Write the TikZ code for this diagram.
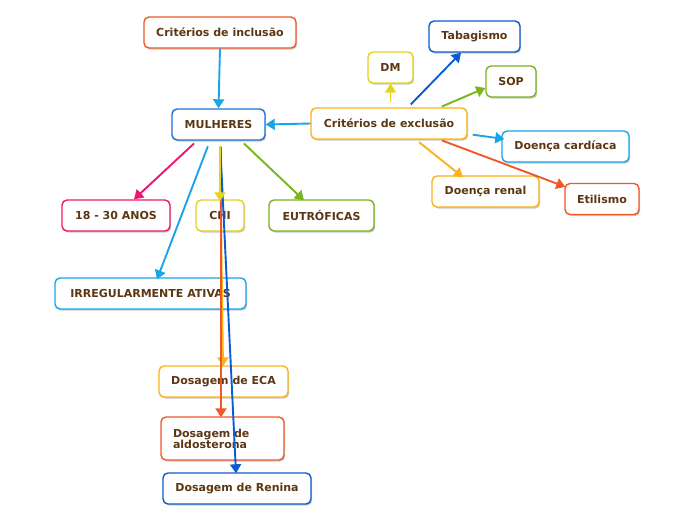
\documentclass[tikz,border=0pt]{standalone}
\usepackage{fontspec}
\setmainfont{DejaVu Sans}
\usetikzlibrary{arrows.meta,shadows}
\definecolor{txt}{HTML}{5C3713}
\definecolor{cOrR}{HTML}{F0582A}
\definecolor{cBlue}{HTML}{1F6FD8}
\definecolor{cDBlue}{HTML}{0B5CD2}
\definecolor{cOrY}{HTML}{FBB316}
\definecolor{cYel}{HTML}{E6D31C}
\definecolor{cGreen}{HTML}{7AB51D}
\definecolor{cCyan}{HTML}{1AA5E8}
\definecolor{cPink}{HTML}{F0166E}
\tikzset{
  box/.style={draw=#1, line width=1.4pt, rounded corners=5pt, fill=white,
    text=txt, font=\fontsize{11}{12.5}\selectfont\bfseries,
    minimum height=31pt, inner sep=0pt,
    drop shadow={shadow xshift=1.2pt, shadow yshift=-1.5pt, opacity=0.22, fill=black}},
  arr/.style={draw=#1, line width=1.9pt, -{Triangle[width=11pt,length=9pt]}},
}
\begin{document}
\begin{tikzpicture}[x=1pt,y=-1pt]
\useasboundingbox (0,0) rectangle (696,520);
\fill[white] (0,0) rectangle (696,520);
% nodes
\node[box=cOrR, minimum width=152pt] (inc) at (220,32.5) {Critérios de inclusão};
\node[box=cBlue, minimum width=93pt] (mul) at (218.5,124.5) {MULHERES};
\node[box=cOrY, minimum width=156pt] (exc) at (389,123.5) {Critérios de exclusão};
\node[box=cYel, minimum width=45pt] (dm) at (390.5,67.5) {DM};
\node[box=cDBlue, minimum width=91pt] (tab) at (474.5,36.5) {Tabagismo};
\node[box=cGreen, minimum width=50pt] (sop) at (511,81.5) {SOP};
\node[box=cCyan, minimum width=127pt] (car) at (565.5,146.5) {Doença cardíaca};
\node[box=cOrY, minimum width=107pt] (ren) at (485.5,191.5) {Doença renal};
\node[box=cOrR, minimum width=74pt] (eti) at (602,199) {Etilismo};
\node[box=cPink, minimum width=108pt] (ano) at (116,215.5) {18 - 30 ANOS};
\node[box=cYel, minimum width=48pt] (chi) at (220,215.5) {CHI};
\node[box=cGreen, minimum width=105pt] (eut) at (321.5,215.5) {EUTRÓFICAS};
\node[box=cCyan, minimum width=191pt] (irr) at (150.5,293.5) {IRREGULARMENTE ATIVAS};
\node[box=cOrY, minimum width=129pt] (eca) at (223.5,381.5) {Dosagem de ECA};
\node[box=cOrR, minimum width=123pt, minimum height=43pt, inner xsep=12pt, text width=99pt, align=left] (ald) at (222.5,438.5) {Dosagem de\\[-1.5pt]aldosterona};
\node[box=cDBlue, minimum width=148pt] (rin) at (237,488.5) {Dosagem de Renina};
% connectors
\draw[arr=cCyan] (inc.south) -- (mul.north);
\draw[arr=cCyan] (exc.west) -- (mul.east);
\draw[arr=cYel, shorten <=5pt] ([shift={(1.5,0)}]exc.north) -- (dm.south);
\draw[arr=cDBlue, shorten <=4pt] ([shift={(19,0)}]exc.north) -- ([shift={(-13.5,0)}]tab.south);
\draw[arr=cGreen, shorten <=2pt] ([shift={(51,0)}]exc.north) -- ([shift={(0,6.5)}]sop.west);
\draw[arr=cCyan, shorten <=5pt] ([shift={(0,10.5)}]exc.east) -- ([shift={(3,-7.5)}]car.west);
\draw[arr=cOrY, shorten <=4pt] ([shift={(27,0)}]exc.south) -- ([shift={(-22.5,2)}]ren.north);
\draw[arr=cOrR, shorten <=2pt] ([shift={(51,0)}]exc.south) -- ([shift={(1,4)}]eti.north west);
\draw[arr=cPink, shorten <=4pt] ([shift={(-21.5,0)}]mul.south) -- ([shift={(18,0)}]ano.north);
\draw[arr=cCyan, shorten <=6pt] ([shift={(-8.5,0)}]mul.south) -- ([shift={(6.5,2)}]irr.north);
\draw[arr=cGreen, shorten <=4pt] ([shift={(22.5,0)}]mul.south) -- ([shift={(-17.5,1)}]eut.north);
\draw[arr=cOrY, shorten <=6pt] ([shift={(1.5,0)}]mul.south) -- ([shift={(-0.5,1)}]eca.north);
\draw[arr=cOrR, shorten <=6pt] ([shift={(2.5,0)}]mul.south) -- ([shift={(-1.5,1)}]ald.north);
\draw[arr=cDBlue, shorten <=6pt] ([shift={(1.5,0)}]mul.south) -- ([shift={(-1,1)}]rin.north);
\draw[arr=cYel, shorten <=5pt] ([shift={(1.5,0)}]mul.south) -- ([shift={(0,2)}]chi.north);
\end{tikzpicture}
\end{document}
